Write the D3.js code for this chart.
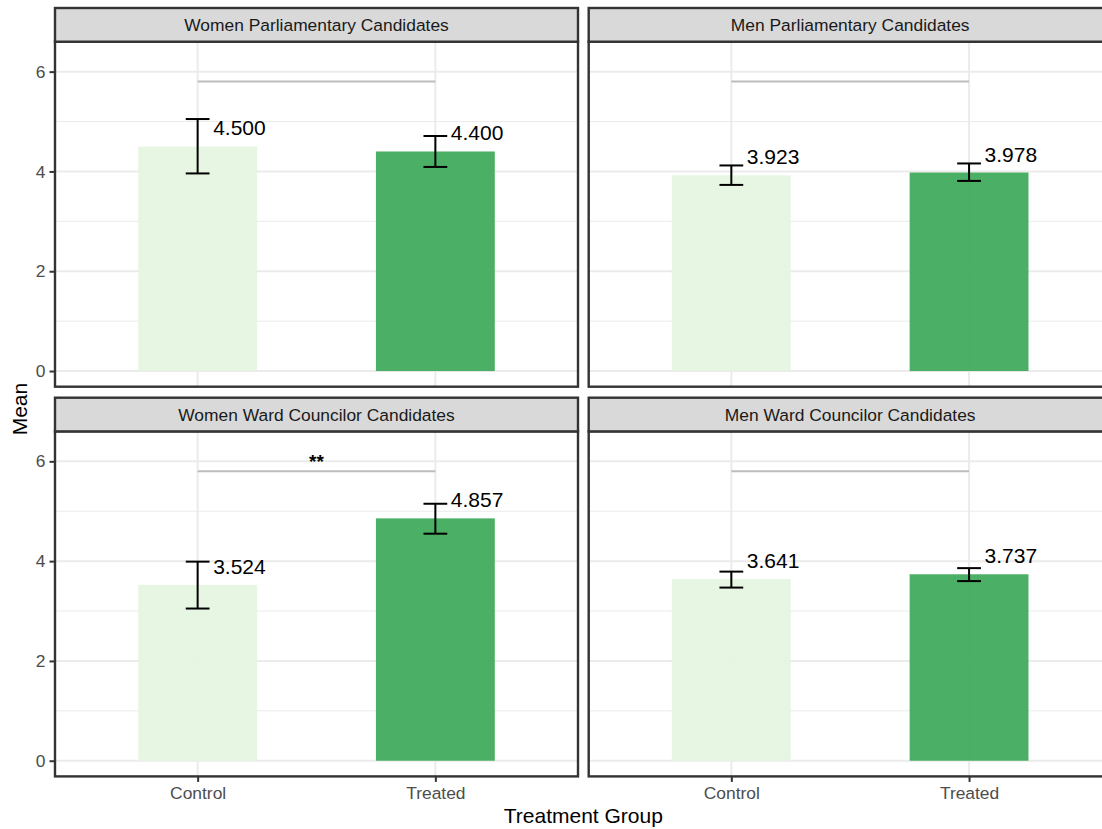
<!DOCTYPE html>
<html>
<head>
<meta charset="utf-8">
<script src="https://cdn.jsdelivr.net/npm/d3@7"></script>
<style>
  body { margin: 0; background: #fff; }
  svg { display: block; font-family: "Liberation Sans", Arial, sans-serif; }
</style>
</head>
<body>
<div id="chart"></div>
<script>
// Data
//= ================================
var facets = [
    "Women Parliamentary Candidates",
    "Men Parliamentary Candidates",
    "Women Ward Councilor Candidates",
    "Men Ward Councilor Candidates"
];
var groups = ["Control", "Treated"];
var means = [[4.500, 4.400], [3.923, 3.978], [3.524, 4.857], [3.641, 3.737]];
var lower = [[3.96, 4.09], [3.73, 3.81], [3.05, 4.55], [3.47, 3.60]];
var upper = [[5.05, 4.71], [4.12, 4.16], [3.99, 5.15], [3.79, 3.86]];
var sigLabels = ["", "", "**", ""];
var sigY = 5.8;
var yTicks = [0, 2, 4, 6];
var yMinor = [1, 3, 5];
var groupColors = ["#e5f5e0", "#41ab5d"];

// Step 1: layout
//= ================================
var svgWidth = 1102;
var svgHeight = 829;
var panelLeft = [55, 588.7];
var stripTop = [8, 397.7];
var stripH = 33.7;
var panelW = 523;
var panelH = 345;

var svg = d3.select("#chart")
    .append("svg")
    .attr("width", svgWidth)
    .attr("height", svgHeight);

// shared scales (ggplot style expansion)
var xScale = d3.scalePoint()
    .domain(groups)
    .range([0, panelW])
    .padding(0.6);
var step = xScale.step();

var yScale = d3.scaleLinear()
    .domain([-0.314, 6.6])
    .range([panelH, 0]);

facets.forEach(function(name, i) {
    var col = i % 2;
    var row = Math.floor(i / 2);
    var px = panelLeft[col];
    var sy = stripTop[row];
    var py = sy + stripH;

    var g = svg.append("g")
        .attr("transform", `translate(${px}, ${py})`);

    // grid lines
    g.selectAll(".minor")
        .data(yMinor)
        .enter()
        .append("line")
        .attr("x1", 0).attr("x2", panelW)
        .attr("y1", function(d) { return yScale(d); })
        .attr("y2", function(d) { return yScale(d); })
        .attr("stroke", "#ebebeb")
        .attr("stroke-width", 1);
    g.selectAll(".major")
        .data(yTicks)
        .enter()
        .append("line")
        .attr("x1", 0).attr("x2", panelW)
        .attr("y1", function(d) { return yScale(d); })
        .attr("y2", function(d) { return yScale(d); })
        .attr("stroke", "#ebebeb")
        .attr("stroke-width", 2);
    g.selectAll(".vgrid")
        .data(groups)
        .enter()
        .append("line")
        .attr("x1", function(d) { return xScale(d); })
        .attr("x2", function(d) { return xScale(d); })
        .attr("y1", 0).attr("y2", panelH)
        .attr("stroke", "#ebebeb")
        .attr("stroke-width", 2);

    // bars
    g.selectAll(".bar")
        .data(groups)
        .enter()
        .append("rect")
        .attr("x", function(d) { return xScale(d) - step * 0.25; })
        .attr("width", step * 0.5)
        .attr("y", function(d, j) { return yScale(means[i][j]); })
        .attr("height", function(d, j) { return yScale(0) - yScale(means[i][j]); })
        .attr("fill", function(d, j) { return groupColors[j]; })
        .attr("fill-opacity", 0.95);

    // error bars
    var capW = step * 0.1;
    groups.forEach(function(gName, j) {
        var cx = xScale(gName);
        var eb = g.append("g")
            .attr("stroke", "#000")
            .attr("stroke-width", 2);
        eb.append("line")
            .attr("x1", cx).attr("x2", cx)
            .attr("y1", yScale(lower[i][j])).attr("y2", yScale(upper[i][j]));
        eb.append("line")
            .attr("x1", cx - capW / 2).attr("x2", cx + capW / 2)
            .attr("y1", yScale(lower[i][j])).attr("y2", yScale(lower[i][j]));
        eb.append("line")
            .attr("x1", cx - capW / 2).attr("x2", cx + capW / 2)
            .attr("y1", yScale(upper[i][j])).attr("y2", yScale(upper[i][j]));

        // mean label
        g.append("text")
            .attr("x", cx + 15.5)
            .attr("y", yScale(means[i][j]) - 11)
            .attr("font-size", "21px")
            .attr("fill", "#000")
            .text(d3.format(".3f")(means[i][j]));
    });

    // significance bracket
    g.append("line")
        .attr("x1", xScale(groups[0]))
        .attr("x2", xScale(groups[1]))
        .attr("y1", yScale(sigY))
        .attr("y2", yScale(sigY))
        .attr("stroke", "#bdbdbd")
        .attr("stroke-width", 2);
    if (sigLabels[i] !== "") {
        g.append("text")
            .attr("x", (xScale(groups[0]) + xScale(groups[1])) / 2)
            .attr("y", yScale(sigY) - 3)
            .attr("text-anchor", "middle")
            .attr("font-size", "19px")
            .attr("font-weight", "bold")
            .text(sigLabels[i]);
    }

    // panel border
    g.append("rect")
        .attr("width", panelW)
        .attr("height", panelH)
        .attr("fill", "none")
        .attr("stroke", "#333333")
        .attr("stroke-width", 2.4);

    // strip
    svg.append("rect")
        .attr("x", px)
        .attr("y", sy)
        .attr("width", panelW)
        .attr("height", stripH)
        .attr("fill", "#d9d9d9")
        .attr("stroke", "#333333")
        .attr("stroke-width", 2.4);
    svg.append("text")
        .attr("x", px + panelW / 2)
        .attr("y", sy + stripH / 2 + 6)
        .attr("text-anchor", "middle")
        .attr("font-size", "17.4px")
        .attr("fill", "#1a1a1a")
        .text(name);

    // y axis on left column
    if (col === 0) {
        var leftAxis = d3.axisLeft(yScale)
            .tickValues(yTicks)
            .tickFormat(d3.format("d"))
            .tickSize(5.5)
            .tickPadding(4);
        var ay = g.append("g").call(leftAxis);
        ay.select(".domain").remove();
        ay.selectAll("line").attr("stroke", "#333333").attr("stroke-width", 2);
        ay.selectAll("text")
            .attr("font-size", "17.4px")
            .attr("font-family", "Liberation Sans, Arial, sans-serif")
            .attr("fill", "#4d4d4d");
    }

    // x axis on bottom row
    if (row === 1) {
        var bottomAxis = d3.axisBottom(xScale)
            .tickSize(5.5)
            .tickPadding(5);
        var ax = g.append("g")
            .attr("transform", `translate(0, ${panelH})`)
            .call(bottomAxis);
        ax.select(".domain").remove();
        ax.selectAll("line").attr("stroke", "#333333").attr("stroke-width", 2);
        ax.selectAll("text")
            .attr("font-size", "17.4px")
            .attr("font-family", "Liberation Sans, Arial, sans-serif")
            .attr("fill", "#4d4d4d");
    }
});

// axis titles
var plotLeft = panelLeft[0];
var plotRight = panelLeft[1] + panelW;
svg.append("text")
    .attr("x", (plotLeft + plotRight) / 2)
    .attr("y", 823)
    .attr("text-anchor", "middle")
    .attr("font-size", "21px")
    .text("Treatment Group");

svg.append("text")
    .attr("transform", `translate(27, ${(stripTop[0] + stripH + stripTop[1] + stripH + panelH) / 2}) rotate(-90)`)
    .attr("text-anchor", "middle")
    .attr("font-size", "21px")
    .text("Mean");
</script>
</body>
</html>
